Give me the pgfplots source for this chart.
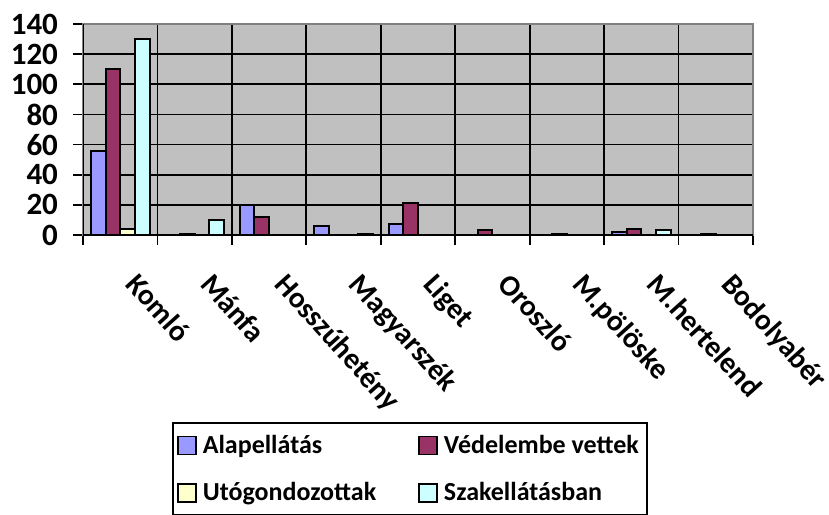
\documentclass[border=0pt]{standalone}
\usepackage{pgfplots}
\pgfplotsset{compat=1.18}
\usepackage{fontspec}
\setmainfont{Carlito}
\definecolor{cA}{HTML}{9999FF}
\definecolor{cB}{HTML}{993366}
\definecolor{cC}{HTML}{FFFFCC}
\definecolor{cD}{HTML}{CCFFFF}
\definecolor{bgc}{HTML}{C0C0C0}
\definecolor{frm}{HTML}{808080}
\begin{document}
\begin{tikzpicture}
\begin{axis}[
  scale only axis, width=335pt, height=105.5pt,
  xmin=-0.5, xmax=8.5, ymin=0, ymax=140,
  ytick={0,20,...,140},
  xtick={0,...,8},
  xticklabels={Komló,Mánfa,Hosszúhetény,Magyarszék,Liget,Oroszló,M.pölöske,M.hertelend,Bodolyabér},
  minor xtick={-0.5,0.5,...,8.5},
  xminorgrids, ymajorgrids,
  grid style={black, line width=0.9pt},
  minor grid style={black, line width=0.9pt},
  major x tick style={draw=none},
  tick align=outside, major tick length=5pt, minor tick length=5pt,
  tick style={black, line width=0.9pt},
  xtick pos=bottom, ytick pos=left,
  axis line style={draw=frm, line width=0.9pt},
  axis background/.style={fill=bgc},
  ybar=0pt, bar width=0.197,
  /pgf/number format/assume math mode=true,
  yticklabel style={xshift=-4pt, font=\bfseries\fontsize{15.5}{17}\selectfont},
  xticklabel style={xshift=10pt, yshift=-11.5pt, rotate=-48, anchor=north west, inner sep=1pt, font=\bfseries\fontsize{14.8}{17}\selectfont},
  legend style={at={(0.133,-0.886)}, anchor=north west, draw=black, line width=0.9pt,
    font=\bfseries\fontsize{13}{15}\selectfont, inner xsep=2pt, inner ysep=4pt,
    row sep=9pt,
    /tikz/every even column/.append style={column sep=19pt},
    /tikz/every odd column/.append style={column sep=1pt}},
  legend columns=2,
  legend cell align=left,
  legend image code/.code={\draw[#1, draw=black, line width=0.9pt] (0pt,-4.5pt) rectangle (9pt,4.5pt);},
]
\addplot[fill=cA, draw=black, line width=1pt] coordinates {(0,56) (2,20) (3,6) (4,7) (7,2)};
\addplot[fill=cB, draw=black, line width=1pt] coordinates {(0,110) (1,1) (2,12) (4,21) (5,3) (6,1) (7,4) (8,1)};
\addplot[fill=cC, draw=black, line width=1pt] coordinates {(0,4)};
\addplot[fill=cD, draw=black, line width=1pt] coordinates {(0,130) (1,10) (3,1) (7,3)};
\legend{Alapellátás,Védelembe vettek,Utógondozottak,Szakellátásban}
\draw[black, line width=1pt] (rel axis cs:0,1) -- (rel axis cs:0,0) -- (rel axis cs:1,0);
\coordinate (BL) at (rel axis cs:0,0);
\coordinate (TR) at (rel axis cs:1,1);
\end{axis}
\pgfresetboundingbox
\path ([shift={(-41.5pt,-139.5pt)}]BL) rectangle ([shift={(38pt,12pt)}]TR);
\end{tikzpicture}
\end{document}
